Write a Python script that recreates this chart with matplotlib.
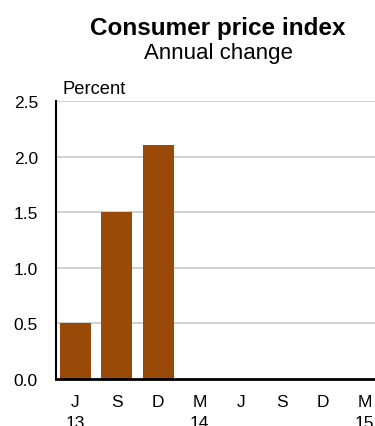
import matplotlib
matplotlib.use("Agg")
import matplotlib.pyplot as plt

plt.rcParams['font.family'] = ['Liberation Sans', 'DejaVu Sans']

months = ["J", "S", "D", "M", "J", "S", "D", "M"]
years = ["13", "", "", "14", "", "", "", "15"]
values = [0.5, 1.5, 2.1]
yticks = [0.0, 0.5, 1.0, 1.5, 2.0, 2.5]

fig = plt.figure(figsize=(3.75, 4.27), dpi=100)
ax = fig.add_axes([56/375, 1-380/427, 1-56/375, (380-102)/427])

for y in yticks[1:]:
    ax.axhline(y, color="#c8c8c8", lw=1.2, zorder=0)

ax.bar(range(len(values)), values, width=0.75, color="#994A08", zorder=2)

ax.set_ylim(0, 2.5)
ax.set_xlim(-0.47, 7.25)
ax.set_yticks(yticks)
ax.set_yticklabels([f"{v:.1f}" for v in yticks], fontsize=12.5)
ax.set_xticks(range(len(months)))
ax.set_xticklabels([m + "\n" + y for m, y in zip(months, years)], fontsize=12.5, linespacing=1.45)
ax.tick_params(axis="x", length=0, pad=11)
ax.tick_params(axis="y", length=0, pad=13)
for s in ["top", "right"]:
    ax.spines[s].set_visible(False)
ax.spines["left"].set_color("black")
ax.spines["left"].set_linewidth(1.5)
ax.spines["bottom"].set_color("black")
ax.spines["bottom"].set_linewidth(2)
ax.spines["bottom"].set_zorder(3)

fig.text(218/375, 1-29/427, "Consumer price index", ha="center", va="center", fontsize=17.5, fontweight="bold")
fig.text(218/375, 1-54/427, "Annual change", ha="center", va="center", fontsize=16)
fig.text(62/375, 1-89/427, "Percent", ha="left", va="center", fontsize=13.2)

fig.savefig("out.png", dpi=100)
